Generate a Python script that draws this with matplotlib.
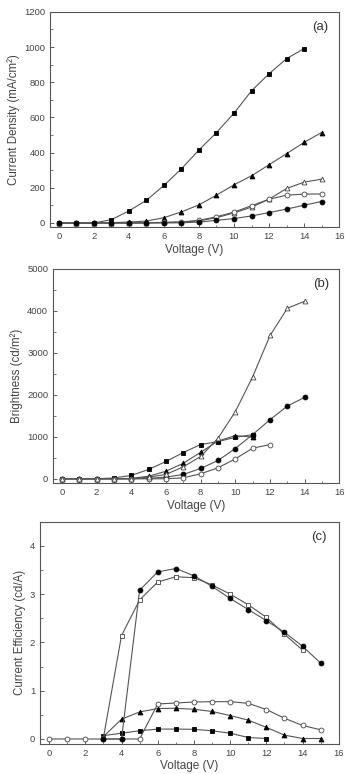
import numpy as np
import matplotlib
matplotlib.use('Agg')
import matplotlib.pyplot as plt
from matplotlib.ticker import MultipleLocator

plt.rcParams['font.family'] = ['Liberation Sans', 'DejaVu Sans']

# %% data

# (a) current density, mA/cm^2
a_v_sq = np.arange(0, 15)
a_sq = [0, 0, 0, 19, 68, 129, 213, 308, 415, 514, 624, 751, 848, 934, 991]
a_v = np.arange(0, 16)
a_tri = [0, 0, 0, 2, 5, 11, 30, 63, 103, 158, 217, 268, 331, 394, 458, 514]
a_otri = [0, 0, 0, 0, 0, 2, 3, 5, 12, 30, 57, 90, 135, 196, 232, 249]
a_ocirc = [0, 0, 0, 0, 0, 0, 3, 6, 15, 35, 62, 98, 135, 158, 164, 165]
a_circ = [0, 0, 0, 0, 0, 0, 0, 1, 5, 15, 25, 40, 59, 79, 101, 122]

# (b) brightness, cd/m^2
b_v_sq = np.arange(0, 12)
b_sq = [0, 0, 0, 20, 79, 222, 412, 626, 816, 885, 990, 1050]
b_v_tri = np.arange(0, 12)
b_tri = [0, 0, 0, 0, 10, 60, 180, 370, 630, 900, 1030, 990]
b_v_otri = np.arange(0, 15)
b_otri = [0, 0, 0, 0, 0, 40, 103, 285, 531, 967, 1601, 2433, 3415, 4065, 4231]
b_v_circ = np.arange(0, 15)
b_circ = [0, 0, 0, 0, 0, 10, 40, 103, 246, 436, 721, 1054, 1410, 1735, 1941]
b_v_ocirc = np.arange(0, 13)
b_ocirc = [0, 0, 0, 0, 0, 0, 0, 24, 119, 261, 475, 729, 816]

# (c) current efficiency, cd/A
c_v_circ = np.arange(3, 16)
c_circ = [0, 0, 3.08, 3.46, 3.53, 3.38, 3.16, 2.91, 2.68, 2.45, 2.21, 1.92, 1.57]
c_v_osq = np.arange(3, 15)
c_osq = [0.02, 2.14, 2.88, 3.25, 3.36, 3.34, 3.19, 3.0, 2.78, 2.52, 2.17, 1.84]
c_v_ocirc = np.arange(0, 16)
c_ocirc = [0, 0, 0, 0, 0, 0, 0.725, 0.745, 0.766, 0.773, 0.773, 0.738, 0.61, 0.43, 0.28, 0.19]
c_v_tri = np.arange(3, 16)
c_tri = [0.05, 0.41, 0.56, 0.63, 0.636, 0.615, 0.57, 0.485, 0.39, 0.24, 0.08, 0.01, 0.01]
c_v_sq = np.arange(3, 13)
c_sq = [0.07, 0.12, 0.17, 0.205, 0.205, 0.2, 0.17, 0.12, 0.03, 0.01]

# %%

txt = '#444444'
line_c = '#555555'
ms = 3.5


def series(ax, x, y, marker, filled):
    ax.plot(x, y, color=line_c, lw=0.8, marker=marker, markersize=ms,
            markerfacecolor='black' if filled else 'white',
            markeredgecolor='black' if filled else '#444444', markeredgewidth=0.6)


def style(ax, ymajor, yminor, label, ylabel):
    ax.set_xlim(-0.5, 16)
    ax.xaxis.set_major_locator(MultipleLocator(2))
    ax.xaxis.set_minor_locator(MultipleLocator(1))
    ax.yaxis.set_major_locator(MultipleLocator(ymajor))
    ax.yaxis.set_minor_locator(MultipleLocator(yminor))
    ax.tick_params(which='both', direction='in', colors=txt, labelsize=6.8)
    ax.tick_params(which='major', length=3, width=0.6)
    ax.tick_params(which='minor', length=1.8, width=0.5)
    for s in ax.spines.values():
        s.set_color('#555555')
        s.set_linewidth(0.8)
    ax.set_xlabel('Voltage (V)', fontsize=8.5, color=txt, labelpad=2)
    ax.set_ylabel(ylabel, fontsize=8.3, color=txt, labelpad=3)
    ax.text(0.935, 0.93, label, transform=ax.transAxes, ha='center', va='center',
            fontsize=9.5, color='#333333')


fig = plt.figure(figsize=(3.45, 7.74), dpi=100)

ax1 = fig.add_axes([0.145, 0.7067, 0.838, 0.278])
series(ax1, a_v_sq, a_sq, 's', True)
series(ax1, a_v, a_tri, '^', True)
series(ax1, a_v, a_otri, '^', False)
series(ax1, a_v, a_ocirc, 'o', False)
series(ax1, a_v, a_circ, 'o', True)
ax1.set_ylim(-23, 1200)
style(ax1, 200, 100, '(a)', 'Current Density (mA/cm²)')

ax2 = fig.add_axes([0.154, 0.376, 0.83, 0.2765])
series(ax2, b_v_sq, b_sq, 's', True)
series(ax2, b_v_tri, b_tri, '^', True)
series(ax2, b_v_circ, b_circ, 'o', True)
series(ax2, b_v_ocirc, b_ocirc, 'o', False)
series(ax2, b_v_otri, b_otri, '^', False)
ax2.set_ylim(-100, 5000)
style(ax2, 1000, 500, '(b)', 'Brightness (cd/m²)')

ax3 = fig.add_axes([0.116, 0.039, 0.866, 0.287])
series(ax3, c_v_sq, c_sq, 's', True)
series(ax3, c_v_tri, c_tri, '^', True)
series(ax3, c_v_ocirc, c_ocirc, 'o', False)
series(ax3, c_v_osq, c_osq, 's', False)
series(ax3, c_v_circ, c_circ, 'o', True)
ax3.set_ylim(-0.1, 4.5)
style(ax3, 1, 0.5, '(c)', 'Current Efficiency (cd/A)')

fig.savefig('out.png', dpi=100)
